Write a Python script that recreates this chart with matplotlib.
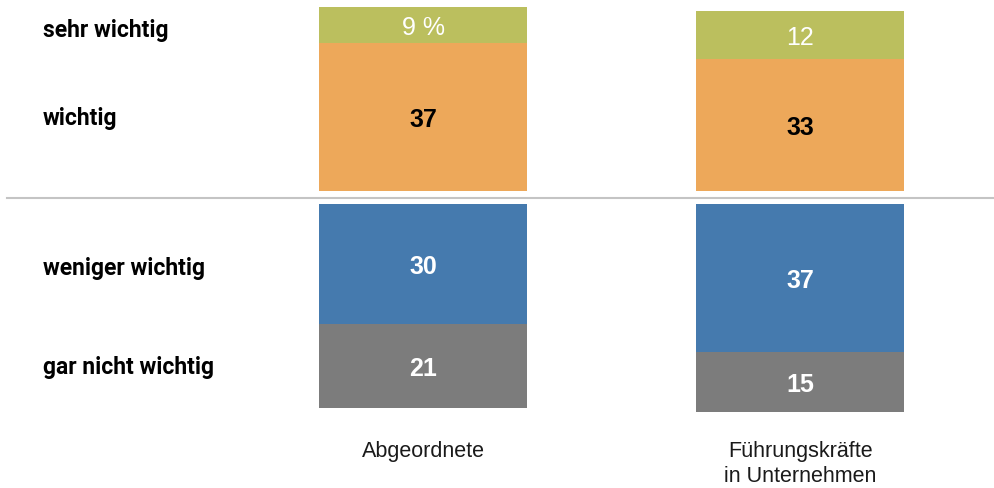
import matplotlib.pyplot as plt

groups = ["Abgeordnete", "Führungskräfte\nin Unternehmen"]
wichtig = [37, 33]
sehr_wichtig = [9, 12]
weniger_wichtig = [30, 37]
gar_nicht_wichtig = [21, 15]
value_text = {
    "sehr wichtig": ["9 %", "12"],
}

colors = {
    "sehr wichtig": "#BBBF5E",
    "wichtig": "#EDA85A",
    "weniger wichtig": "#457AAE",
    "gar nicht wichtig": "#7C7C7C",
}
text_colors = {
    "sehr wichtig": "white",
    "wichtig": "black",
    "weniger wichtig": "white",
    "gar nicht wichtig": "white",
}
text_weights = {
    "sehr wichtig": "normal",
    "wichtig": "bold",
    "weniger wichtig": "bold",
    "gar nicht wichtig": "bold",
}

narrow = ["Liberation Sans", "DejaVu Sans"]
gap = 3.25

fig = plt.figure(figsize=(9.95, 4.88), dpi=100)
ax = fig.add_axes([0, 0, 1, 1])
ax.set_xlim(-1.122, 1.517)
ax.set_ylim(-74.25, 47.75)
ax.axis("off")

x = [0, 1]
width = 0.552


def draw(values, bottoms, name, sign):
    heights = [sign * v for v in values]
    ax.bar(x, heights, width=width, bottom=bottoms, color=colors[name], linewidth=0)
    labels = value_text.get(name, [str(v) for v in values])
    for xi, b, h, lab in zip(x, bottoms, heights, labels):
        ax.text(xi, b + h / 2 - 0.8, lab, ha="center", va="center", fontsize=18,
                fontweight=text_weights[name], color=text_colors[name], family=narrow)
    return [b + h for b, h in zip(bottoms, heights)]


top = draw(wichtig, [0, 0], "wichtig", 1)
draw(sehr_wichtig, top, "sehr wichtig", 1)
low = draw(weniger_wichtig, [-gap, -gap], "weniger wichtig", -1)
draw(gar_nicht_wichtig, low, "gar nicht wichtig", -1)

# separator line between positive and negative parts
ax.axhline(-gap / 2, xmin=0.007, xmax=1, color="#C4C4C4", linewidth=1.5)

# row labels at left, aligned to first group's segments
row_pos = {
    "sehr wichtig": wichtig[0] + sehr_wichtig[0] / 2 - 1.5,
    "wichtig": wichtig[0] / 2 - 0.3,
    "weniger wichtig": -gap - weniger_wichtig[0] / 2 - 1,
    "gar nicht wichtig": -gap - weniger_wichtig[0] - gar_nicht_wichtig[0] / 2 - 0.3,
}
for name, y in row_pos.items():
    ax.text(0.043, y, name, transform=ax.get_yaxis_transform(), ha="left",
            va="center", fontsize=16.5, fontweight="bold", family="Roboto")

for xi, g in zip(x, groups):
    ax.text(xi, -62.6, g, ha="center", va="top", fontsize=15.5, family=narrow,
            linespacing=1.2, color="#1a1a1a")

fig.savefig("out.png", dpi=100)
